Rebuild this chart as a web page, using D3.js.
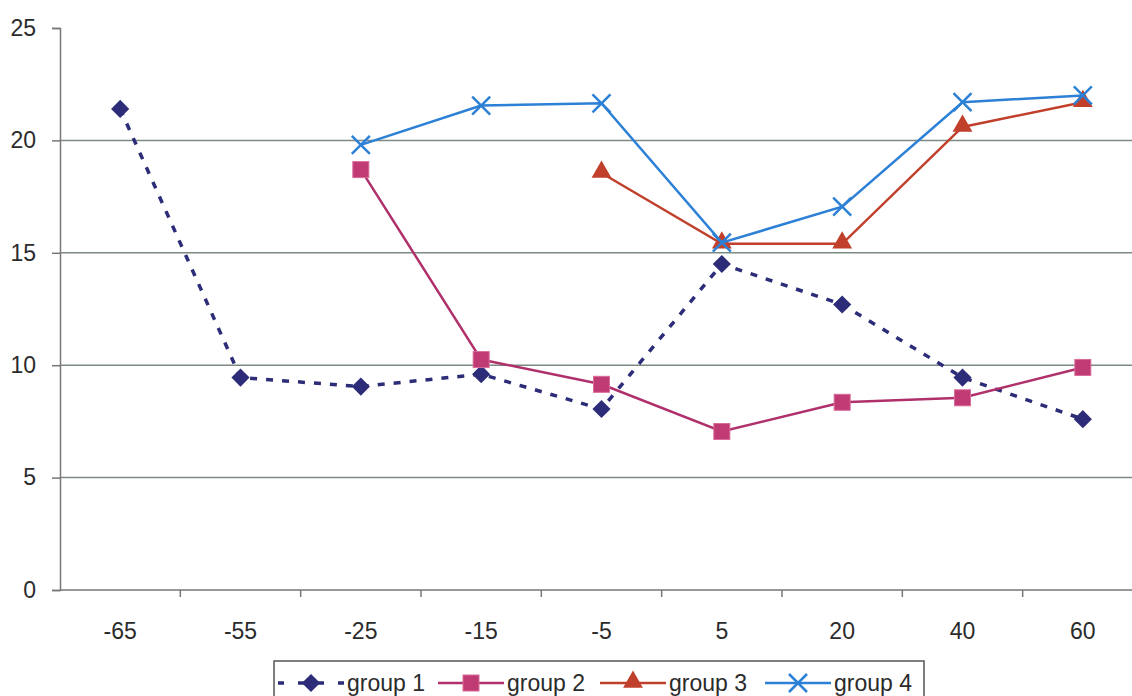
<!DOCTYPE html>
<html>
<head>
<meta charset="utf-8">
<script src="https://cdn.jsdelivr.net/npm/d3@7"></script>
<style>
  body { margin: 0; background: #fff; }
  #chart { width: 1132px; height: 696px; }
  text { font-family: Arial, "Liberation Sans", sans-serif; fill: #2b2b2b; }
</style>
</head>
<body>
<div id="chart"></div>
<script>
// categories on the x axis
var categories = ["-65", "-55", "-25", "-15", "-5", "5", "20", "40", "60"];
var yTicks = [0, 5, 10, 15, 20, 25];

// series values (null = no point)
var group1 = [21.4, 9.45, 9.05, 9.6, 8.05, 14.5, 12.7, 9.45, 7.6];
var group2 = [null, null, 18.7, 10.25, 9.15, 7.05, 8.35, 8.55, 9.9];
var group3 = [null, null, null, null, 18.55, 15.4, 15.4, 20.6, 21.7];
var group4 = [null, null, 19.8, 21.55, 21.65, 15.45, 17.05, 21.7, 22.0];
var seriesNames = ["group 1", "group 2", "group 3", "group 4"];

var series = [
  {name: seriesNames[0], values: group1, color: "#2c2c78", marker: "diamond", dash: "7,9"},
  {name: seriesNames[1], values: group2, color: "#b0306c", marker: "square", dash: null},
  {name: seriesNames[2], values: group3, color: "#c0402c", marker: "triangle", dash: null},
  {name: seriesNames[3], values: group4, color: "#2c80d6", marker: "cross", dash: null}
];

var svg = d3.select("#chart").append("svg")
    .attr("width", 1132)
    .attr("height", 696);

// set the ranges
var x = d3.scaleBand().domain(categories).range([60, 1143]);
var y = d3.scaleLinear().domain([0, 25]).range([590, 28]);

// gridlines
svg.append("g")
  .selectAll("line")
  .data(yTicks.filter(function(d) { return d > 0 && d < 25; }))
  .enter().append("line")
    .attr("x1", 60).attr("x2", 1132)
    .attr("y1", function(d) { return y(d); })
    .attr("y2", function(d) { return y(d); })
    .attr("stroke", "#7d8a82")
    .attr("stroke-width", 1.5);

// Y axis
var yAxis = svg.append("g")
    .attr("transform", "translate(60,0)")
    .call(d3.axisLeft(y).tickValues(yTicks).tickSize(8).tickPadding(16));
yAxis.select(".domain").attr("stroke", "#777").attr("stroke-width", 1.5);
yAxis.selectAll(".tick line").attr("stroke", "#777").attr("stroke-width", 1.5);
yAxis.selectAll("text").attr("font-size", 23).style("fill", "#2b2b2b");

// X axis, ticks between categories
var xAxis = svg.append("g")
    .attr("transform", "translate(0,590)");
xAxis.append("line")
    .attr("x1", 60).attr("x2", 1132)
    .attr("stroke", "#777").attr("stroke-width", 1.5);
xAxis.selectAll(".xtick")
  .data(categories.slice(1))
  .enter().append("line")
    .attr("class", "xtick")
    .attr("x1", function(d) { return x(d); })
    .attr("x2", function(d) { return x(d); })
    .attr("y1", 0).attr("y2", 7)
    .attr("stroke", "#777").attr("stroke-width", 1.5);
xAxis.selectAll(".xlabel")
  .data(categories)
  .enter().append("text")
    .attr("class", "xlabel")
    .attr("x", function(d) { return x(d) + x.bandwidth() / 2; })
    .attr("y", 49)
    .attr("text-anchor", "middle")
    .attr("font-size", 23)
    .text(function(d) { return d; });

// markers
function drawMarker(g, type, color, cx, cy) {
  if (type === "diamond") {
    g.append("path")
      .attr("d", d3.symbol().type(d3.symbolSquare).size(165)())
      .attr("transform", "translate(" + cx + "," + cy + ") rotate(45)")
      .attr("fill", color);
  } else if (type === "square") {
    g.append("rect")
      .attr("x", cx - 8).attr("y", cy - 8)
      .attr("width", 16).attr("height", 16)
      .attr("fill", "#c03a74").attr("stroke", "#d96b98").attr("stroke-width", 1);
  } else if (type === "triangle") {
    g.append("path")
      .attr("d", d3.symbol().type(d3.symbolTriangle).size(170)())
      .attr("transform", "translate(" + cx + "," + (cy - 1) + ")")
      .attr("fill", color);
  } else if (type === "cross") {
    var r = 9;
    g.append("path")
      .attr("d", "M" + (cx - r) + "," + (cy - r) + "L" + (cx + r) + "," + (cy + r) +
                 "M" + (cx - r) + "," + (cy + r) + "L" + (cx + r) + "," + (cy - r))
      .attr("stroke", color).attr("stroke-width", 2.5).attr("fill", "none");
  }
}

// define the line
var valueline = d3.line()
    .defined(function(d) { return d.v !== null; })
    .x(function(d) { return x(d.c) + x.bandwidth() / 2; })
    .y(function(d) { return y(d.v); });

series.forEach(function(s) {
  var pts = categories.map(function(c, i) { return {c: c, v: s.values[i]}; });
  svg.append("path")
    .datum(pts)
    .attr("d", valueline)
    .attr("fill", "none")
    .attr("stroke", s.color)
    .attr("stroke-width", s.dash ? 3.5 : 2.5)
    .attr("stroke-dasharray", s.dash);
  var g = svg.append("g");
  pts.filter(function(d) { return d.v !== null; }).forEach(function(d) {
    drawMarker(g, s.marker, s.color, x(d.c) + x.bandwidth() / 2, y(d.v));
  });
});

// legend
var legend = svg.append("g");
legend.append("rect")
    .attr("x", 274).attr("y", 661)
    .attr("width", 650).attr("height", 44)
    .attr("fill", "#fff").attr("stroke", "#555").attr("stroke-width", 1.5);
var legendPos = [278, 438, 600, 765];
series.forEach(function(s, i) {
  var lx = legendPos[i], ly = 683;
  legend.append("line")
    .attr("x1", lx).attr("x2", lx + 66)
    .attr("y1", ly).attr("y2", ly)
    .attr("stroke", s.color)
    .attr("stroke-width", s.dash ? 3.5 : 2.5)
    .attr("stroke-dasharray", s.dash ? "6,14" : null);
  drawMarker(legend, s.marker, s.color, lx + 33, ly);
  legend.append("text")
    .attr("x", lx + 69).attr("y", ly + 8)
    .attr("font-size", 23)
    .text(s.name);
});
</script>
</body>
</html>
